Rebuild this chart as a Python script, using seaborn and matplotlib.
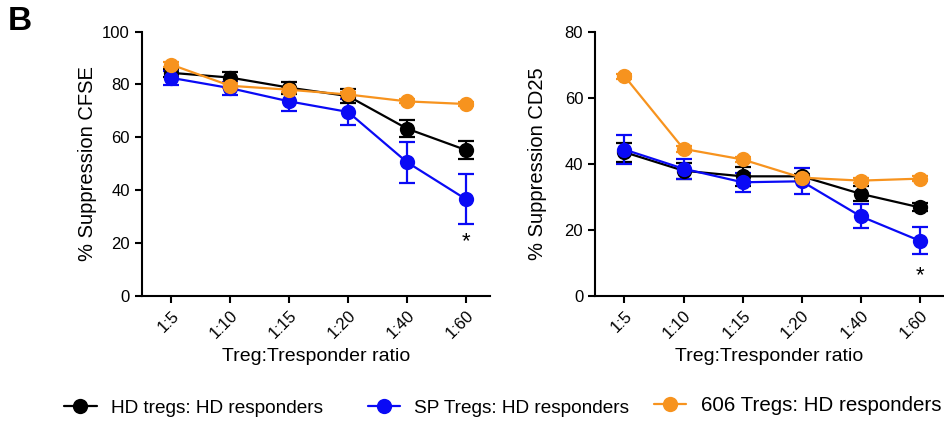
import numpy as np
import pandas as pd
import matplotlib
matplotlib.use("Agg")
import matplotlib.pyplot as plt
import seaborn as sns

# ratios on the x axis
ratios = ["1:5", "1:10", "1:15", "1:20", "1:40", "1:60"]

# % suppression CFSE (mean, sem)
cfse_hd = [84.4, 82.6, 78.8, 75.6, 63.3, 55.2]
cfse_hd_err = [1.5, 2.0, 2.3, 2.5, 3.3, 3.5]
cfse_sp = [82.5, 78.6, 73.6, 69.6, 50.6, 36.6]
cfse_sp_err = [2.7, 2.5, 3.6, 5.0, 7.8, 9.5]
cfse_606 = [87.5, 79.5, 78.0, 76.2, 73.6, 72.6]
cfse_606_err = [1.0, 1.0, 1.0, 1.0, 0.8, 0.8]

# % suppression CD25 (mean, sem)
cd25_hd = [43.5, 37.9, 36.2, 36.2, 30.9, 26.8]
cd25_hd_err = [2.9, 2.4, 2.9, 0.8, 2.3, 1.2]
cd25_sp = [44.3, 38.5, 34.4, 34.7, 24.1, 16.7]
cd25_sp_err = [4.3, 3.0, 2.8, 3.9, 3.6, 4.1]
cd25_606 = [66.5, 44.5, 41.3, 35.8, 34.9, 35.5]
cd25_606_err = [0.8, 0.8, 0.8, 0.8, 0.8, 0.8]

groups = ["HD tregs: HD responders", "SP Tregs: HD responders", "606 Tregs: HD responders"]
colors = ["#000000", "#0A0AF5", "#F7931E"]

sns.set_style("ticks")
plt.rcParams["font.family"] = ["Liberation Sans", "DejaVu Sans"]
for k in ["text.color", "axes.labelcolor", "xtick.color", "ytick.color", "axes.edgecolor"]:
    plt.rcParams[k] = "black"


def long_table(series, errs):
    rows = []
    for g, vals, ee in zip(groups, series, errs):
        for i, (v, e) in enumerate(zip(vals, ee)):
            rows.append({"pos": i, "ratio": ratios[i], "group": g, "value": v, "err": e})
    return pd.DataFrame(rows)


def draw_panel(ax, df, ylabel, ymax, star_y, ylab_x):
    for g, c in zip(groups, colors):
        sub = df[df["group"] == g]
        ax.errorbar(sub["pos"], sub["value"], yerr=sub["err"], fmt="none",
                    ecolor=c, elinewidth=1.6, capsize=6, capthick=1.6, zorder=2)
        sns.lineplot(data=sub, x="pos", y="value", ax=ax, color=c, marker="o",
                     markersize=11, markeredgewidth=0, linewidth=1.6,
                     label=g, zorder=3)
    ax.set_xlim(-0.5, 5.41)
    ax.set_ylim(0, ymax)
    ax.set_yticks(np.arange(0, ymax + 1, 20))
    ax.set_xticks(range(len(ratios)))
    ax.set_xticklabels(ratios, rotation=45, ha="right", rotation_mode="anchor")
    ax.set_xlabel("Treg:Tresponder ratio", fontsize=14, labelpad=5)
    ax.set_ylabel(ylabel, fontsize=14.5)
    ax.yaxis.set_label_coords(ylab_x, 0.5)
    ax.tick_params(labelsize=12, width=1.5, length=5)
    for s in ["left", "bottom"]:
        ax.spines[s].set_linewidth(1.5)
    sns.despine(ax=ax)
    ax.text(5, star_y, "*", ha="center", va="center", fontsize=16)
    ax.get_legend().remove()


fig = plt.figure(figsize=(9.45, 4.21), dpi=100)
ax1 = fig.add_axes([0.150, 0.297, 0.3686, 0.628])
ax2 = fig.add_axes([0.6296, 0.297, 0.3693, 0.628])

draw_panel(ax1, long_table([cfse_hd, cfse_sp, cfse_606], [cfse_hd_err, cfse_sp_err, cfse_606_err]),
           "% Suppression CFSE", 100, 20.5, -0.128)
draw_panel(ax2, long_table([cd25_hd, cd25_sp, cd25_606], [cd25_hd_err, cd25_sp_err, cd25_606_err]),
           "% Suppression CD25", 80, 6.0, -0.1375)

# one legend entry per group, placed like the original (last one is a bit larger)
handles, labels = ax1.get_legend_handles_labels()
leg_x = [0.068, 0.389, 0.692]
leg_y = [0.03, 0.03, 0.037]
leg_fs = [13.7, 13.7, 14.8]
leg_hl = [1.7, 1.7, 1.55]
for h, l, x0, y0, fs, hl in zip(handles, labels, leg_x, leg_y, leg_fs, leg_hl):
    fig.legend([h], [l], loc="center left", bbox_to_anchor=(x0, y0),
               frameon=False, fontsize=fs, handlelength=hl, handletextpad=0.75,
               borderpad=0, borderaxespad=0)

fig.text(0.008, 0.985, "B", fontsize=24, fontweight="bold", va="top", ha="left")

fig.savefig("out.png", dpi=100)
